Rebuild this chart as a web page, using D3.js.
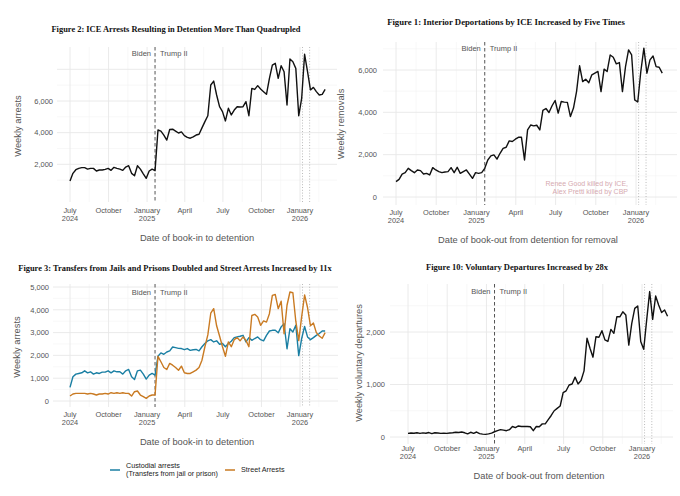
<!DOCTYPE html>
<html><head><meta charset="utf-8">
<script src="https://cdn.jsdelivr.net/npm/d3@7"></script>
<style>body{margin:0;background:#fff}svg{display:block}</style>
</head><body><svg id="c" width="680" height="496"></svg>
<script>
// ---------- DATA ----------
// weekly series, first week starting 2024-07-01 (88 weeks)
const firstWeek = "2024-07-01";
const arrests = [950,1430,1660,1745,1790,1790,1700,1745,1745,1580,
 1640,1640,1680,1745,1620,1810,1745,1700,1620,1830,
 1915,1430,1280,1915,1700,1400,1115,1580,1700,1600,
 4170,4100,3850,3530,4200,4220,4100,3980,4050,3810,
 3700,3650,3740,3850,3900,4300,4700,5070,7010,7260,
 6380,5640,5330,4740,5540,5120,5430,5640,5620,5640,
 5960,5070,6800,6730,6970,6760,6590,6420,7430,8270,
 8380,7430,8230,7850,5750,8650,8480,8060,5070,6170,
 8950,7850,6700,6860,6590,6380,6420,6730];
const removals = [724,832,1084,1150,1355,1245,1150,1277,1245,1084,
 1116,1040,1387,1277,1200,1150,1180,1200,1387,1150,
 1403,1116,1200,1277,1084,880,1150,1116,1150,1355,
 1750,1940,1990,1790,2065,2300,2350,2650,2620,2730,
 2820,2820,1750,3170,3400,3360,3390,3170,4090,4180,
 3990,4310,4560,3960,4510,4480,4470,3800,4200,4980,
 6200,5450,5560,5400,5770,5850,5930,4980,6040,5930,
 6710,6600,6290,6350,4980,6160,6950,6710,4590,4490,
 5930,7030,5850,6480,6660,6160,6130,5850];
const custodial = [597,1062,1179,1208,1237,1324,1237,1280,1179,1237,
 1208,1266,1266,1324,1237,1324,1280,1280,1179,1324,
 1383,1062,946,1324,1353,1179,960,1135,1208,1135,
 1960,2110,2050,2150,2200,2370,2340,2310,2300,2250,
 2300,2220,2250,2260,2200,2380,2520,2640,2690,2590,
 2640,2490,2520,2380,2520,2620,2780,2810,2840,2880,
 2590,2780,2660,2740,2810,2690,2640,2880,3070,3100,
 3100,2990,3250,3390,2290,3170,3030,3320,1990,2740,
 3270,2810,2690,2780,2880,2960,3070,3070];
const street = [218,306,335,335,335,335,306,335,306,262,
 306,306,335,306,364,335,364,335,364,335,
 335,218,408,437,262,190,117,218,262,262,
 1960,1720,1470,1380,1650,1570,1470,1350,1530,1237,
 1208,1208,1280,1354,1470,1790,2380,2900,3850,4050,
 3300,2850,2380,1960,2590,2380,2690,2780,2640,2810,
 2660,2380,3750,3800,3680,3320,3510,3460,3830,4630,
 4670,4050,4380,2950,4200,4780,4750,3500,2650,3700,
 4650,4100,3300,3420,3000,2850,2750,3000];
const voluntary = [70,75,72,80,68,78,72,85,65,80,
 75,70,72,70,75,80,90,85,95,80,
 60,90,70,95,65,55,50,60,75,100,
 120,140,130,120,140,200,180,210,200,200,
 200,195,120,200,195,250,250,330,410,500,
 545,590,845,880,990,1010,1140,1010,1075,1260,
 1880,1690,1520,1910,1900,2025,1850,1820,2050,1975,
 2290,2290,2385,2325,1750,2165,2450,2495,1820,1670,
 2230,2770,2240,2685,2515,2370,2420,2300];

const monthTickDates = ["2024-07-01","2024-10-01","2025-01-01","2025-04-01","2025-07-01","2025-10-01","2026-01-01"];
const monthTickLabels = [["July","2024"],["October"],["January","2025"],["April"],["July"],["October"],["January","2026"]];
const minorTickDates = ["2024-08-16","2024-11-16","2025-02-15","2025-05-16","2025-08-16","2025-11-16","2026-02-15"];
const inaugurationDate = "2025-01-20";
const eventDates = ["2026-01-07","2026-01-24"];
const eraLabels = ["Biden","Trump II"];

const arrestsTicks = [2000,4000,6000];
const arrestsGrid = [2000,4000,6000,8000];
const arrestsMinor = [1000,3000,5000,7000];
const removalTicks = [0,2000,4000,6000];
const removalMinor = [1000,3000,5000,7000];
const transferTicks = [0,1000,2000,3000,4000,5000];
const transferMinor = [500,1500,2500,3500,4500];
const vdTicks = [0,1000,2000];
const vdMinor = [500,1500,2500];

const titles = ["Figure 2: ICE Arrests Resulting in Detention More Than Quadrupled",
 "Figure 1: Interior Deportations by ICE Increased by Five Times",
 "Figure 3: Transfers from Jails and Prisons Doubled and Street Arrests Increased by 11x",
 "Figure 10: Voluntary Departures Increased by 28x"];
const legendLabels = [["Custodial arrests","(Transfers from jail or prison)"],["Street Arrests"]];
const annotationLines = ["Renee Good killed by ICE,","Alex Pretti killed by CBP"];

// ---------- DRAW ----------
const svg = d3.select("#c");
const parse = d3.timeParse("%Y-%m-%d");
const start = parse(firstWeek);
const weeks = d3.range(arrests.length).map(i => d3.timeWeek.offset(start, i));
const SANS = "'Liberation Sans', Arial, sans-serif";
const SERIF = "'Liberation Serif', 'DejaVu Serif', serif";
const GRAY = "#555";

function fitText(t, w) {
  let fs = parseFloat(t.attr("font-size"));
  const len = t.node().getComputedTextLength();
  t.attr("font-size", (fs * w / len).toFixed(2));
}

function drawPanel(c) {
  const g = svg.append("g");
  const x = d3.scaleTime().domain([parse("2024-07-01"), parse("2026-01-01")]).range([c.x0, c.x1]);
  const y = d3.scaleLinear().domain([0, c.refVal]).range([c.y0, c.refPx]);
  // grid
  const grid = g.append("g");
  grid.selectAll(".vmin").data(minorTickDates.map(parse)).join("line")
    .attr("x1", d => x(d)).attr("x2", d => x(d)).attr("y1", c.top).attr("y2", c.bottom)
    .attr("stroke", "#f3f3f3").attr("stroke-width", 0.6);
  grid.selectAll(".hmin").data(c.minor).join("line")
    .attr("x1", c.left).attr("x2", c.right).attr("y1", d => y(d)).attr("y2", d => y(d))
    .attr("stroke", "#f3f3f3").attr("stroke-width", 0.6);
  grid.selectAll(".vmaj").data(monthTickDates.map(parse)).join("line")
    .attr("x1", d => x(d)).attr("x2", d => x(d)).attr("y1", c.top).attr("y2", c.bottom)
    .attr("stroke", "#e8e8e8").attr("stroke-width", 0.9);
  grid.selectAll(".hmaj").data(c.grid).join("line")
    .attr("x1", c.left).attr("x2", c.right).attr("y1", d => y(d)).attr("y2", d => y(d))
    .attr("stroke", "#e8e8e8").attr("stroke-width", 0.9);

  // y tick labels
  g.selectAll(".yl").data(c.ticks).join("text")
    .attr("x", c.yLabX).attr("y", d => y(d) + 2.7).attr("text-anchor", "end")
    .attr("font-family", SANS).attr("font-size", 7.5).attr("fill", GRAY)
    .text(d => d3.format(",")(d));
  // x tick labels
  const xl = g.selectAll(".xl").data(monthTickDates.map((d, i) => ({d: parse(d), l: monthTickLabels[i]}))).join("text")
    .attr("text-anchor", "middle").attr("font-family", SANS).attr("font-size", 7.4).attr("fill", GRAY);
  xl.each(function(o) {
    const t = d3.select(this);
    o.l.forEach((s, k) => t.append("tspan").attr("x", x(o.d)).attr("y", c.xLabY + 2.7 + k * 8.2).text(s));
  });

  // event lines
  const inaug = x(parse(inaugurationDate));
  g.append("line").attr("x1", inaug).attr("x2", inaug).attr("y1", c.top).attr("y2", c.bottom)
    .attr("stroke", "#555").attr("stroke-width", 1).attr("stroke-dasharray", "3.5,2.5");
  g.selectAll(".ev").data(eventDates.map(parse)).join("line")
    .attr("x1", d => x(d)).attr("x2", d => x(d)).attr("y1", c.top).attr("y2", c.bottom)
    .attr("stroke", "#aaa").attr("stroke-width", 0.8).attr("stroke-dasharray", "1,1.8");
  g.append("text").attr("x", inaug - 4).attr("y", c.eraY + 2.7).attr("text-anchor", "end")
    .attr("font-family", SANS).attr("font-size", 7.5).attr("fill", GRAY).text(eraLabels[0]);
  g.append("text").attr("x", inaug + 5).attr("y", c.eraY + 2.7)
    .attr("font-family", SANS).attr("font-size", 7.5).attr("fill", GRAY).text(eraLabels[1]);

  // lines
  const line = d3.line().x((d, i) => x(weeks[i])).y(d => y(d)).curve(d3.curveLinear);
  c.series.forEach(s => {
    g.append("path").datum(s.v).attr("d", line).attr("fill", "none")
      .attr("stroke", s.color).attr("stroke-width", 1.4).attr("stroke-linejoin", "round");
  });

  // titles
  const tt = g.append("text").attr("x", c.titleX).attr("y", c.titleY + 3).attr("text-anchor", "middle")
    .attr("font-family", SERIF).attr("font-weight", "bold").attr("font-size", 9).attr("fill", "#111").text(c.title);
  fitText(tt, c.titleW);
  g.append("text").attr("x", c.xtX).attr("y", c.xtY + 3.3).attr("text-anchor", "middle")
    .attr("font-family", SANS).attr("font-size", 9.3).attr("fill", GRAY).text(c.xTitle);
  g.append("text").attr("transform", `translate(${c.ytX + 3.3},${c.ytY}) rotate(-90)`).attr("text-anchor", "middle")
    .attr("font-family", SANS).attr("font-size", 9.3).attr("fill", GRAY).text(c.yTitle);
  return {x, y, g};
}

drawPanel({x0:70, x1:300, y0:196, refVal:6000, refPx:101, left:57, right:337, top:47, bottom:202,
  grid:arrestsGrid, minor:arrestsMinor, ticks:arrestsTicks, yLabX:53, xLabY:210, eraY:53,
  series:[{v:arrests, color:"#111"}], title:titles[0], titleX:176, titleY:29, titleW:249,
  xTitle:"Date of book-in to detention", xtX:197, xtY:238, yTitle:"Weekly arrests", ytX:18, ytY:126});

const p2 = drawPanel({x0:396, x1:636, y0:197, refVal:6000, refPx:70, left:383, right:677, top:42, bottom:205,
  grid:removalTicks, minor:removalMinor, ticks:removalTicks, yLabX:377, xLabY:212, eraY:48,
  series:[{v:removals, color:"#111"}], title:titles[1], titleX:506, titleY:22, titleW:238,
  xTitle:"Date of book-out from detention for removal", xtX:528, xtY:240, yTitle:"Weekly removals", ytX:341, ytY:124});
p2.g.selectAll(".ann").data(annotationLines).join("text")
  .attr("x", 628).attr("y", (d, i) => 185.5 + i * 8).attr("text-anchor", "end")
  .attr("font-family", SANS).attr("font-size", 7).attr("fill", "#d6aab0").text(d => d);

const p3 = drawPanel({x0:70, x1:300, y0:401, refVal:5000, refPx:287, left:53, right:338, top:284, bottom:407,
  grid:transferTicks, minor:transferMinor, ticks:transferTicks, yLabX:49, xLabY:414, eraY:292,
  series:[{v:custodial, color:"#1a7fa3"}, {v:street, color:"#c97a22"}], title:titles[2], titleX:175, titleY:268, titleW:314,
  xTitle:"Date of book-in to detention", xtX:197, xtY:442, yTitle:"Weekly arrests", ytX:17, ytY:347});
// legend
const leg = [{color:"#1a7fa3", lines:legendLabels[0], x:110, ty:[465,473]}, {color:"#c97a22", lines:legendLabels[1], x:225, ty:[469]}];
leg.forEach(l => {
  p3.g.append("line").attr("x1", l.x).attr("x2", l.x + 10).attr("y1", 470).attr("y2", 470)
    .attr("stroke", l.color).attr("stroke-width", 1.5);
  l.lines.forEach((s, k) => p3.g.append("text").attr("x", l.x + 16).attr("y", l.ty[k] + 2.5)
    .attr("font-family", SANS).attr("font-size", 7.2).attr("fill", "#222").text(s));
});

drawPanel({x0:408, x1:642, y0:437, refVal:2000, refPx:332, left:390, right:673, top:284, bottom:444,
  grid:vdTicks, minor:vdMinor, ticks:vdTicks, yLabX:385, xLabY:448, eraY:291,
  series:[{v:voluntary, color:"#111"}], title:titles[3], titleX:517, titleY:267, titleW:182,
  xTitle:"Date of book-out from detention", xtX:539, xtY:476, yTitle:"Weekly voluntary departures", ytX:359, ytY:363});
</script></body></html>
